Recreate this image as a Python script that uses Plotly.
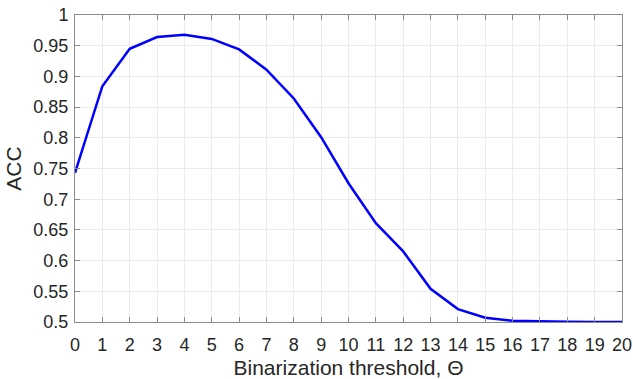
import plotly.graph_objects as go

theta = list(range(0, 21))
acc = [0.743, 0.884, 0.945, 0.964, 0.968, 0.961, 0.944, 0.911, 0.864, 0.801,
       0.726, 0.661, 0.615, 0.554, 0.521, 0.507, 0.502, 0.5008, 0.5004, 0.5002, 0.5001]
ytick_vals = [0.5, 0.55, 0.6, 0.65, 0.7, 0.75, 0.8, 0.85, 0.9, 0.95, 1.0]
ytick_text = ["0.5", "0.55", "0.6", "0.65", "0.7", "0.75", "0.8", "0.85", "0.9", "0.95", "1"]

fig = go.Figure()
fig.add_trace(go.Scatter(x=theta, y=acc, mode="lines",
                         line=dict(color="#0000ff", width=2.5)))

font_family = "Liberation Sans, Arial, sans-serif"
axis_common = dict(
    showgrid=True, gridcolor="#ebebeb", gridwidth=1,
    showline=True, linecolor="#8c8c8c", linewidth=1, mirror="ticks",
    ticks="inside", ticklen=5, tickcolor="#8c8c8c", tickwidth=1,
    zeroline=False, automargin=False,
    tickfont=dict(family=font_family, size=18, color="#262626"),
)
fig.update_xaxes(range=[0, 20], tickmode="array", tickvals=theta,
                 ticklabelstandoff=6,
                 title=dict(text="Binarization threshold, Θ", standoff=8,
                            font=dict(family=font_family, size=21, color="#262626")),
                 **axis_common)
fig.update_yaxes(range=[0.5, 1], tickmode="array", tickvals=ytick_vals, ticktext=ytick_text,
                 ticklabelstandoff=2,
                 title=dict(text="ACC", standoff=6,
                            font=dict(family=font_family, size=21, color="#262626")),
                 **axis_common)
fig.update_layout(width=633, height=379, margin=dict(l=75, r=11, t=15, b=57),
                  plot_bgcolor="white", paper_bgcolor="white", showlegend=False)
fig.write_html("out.html")
